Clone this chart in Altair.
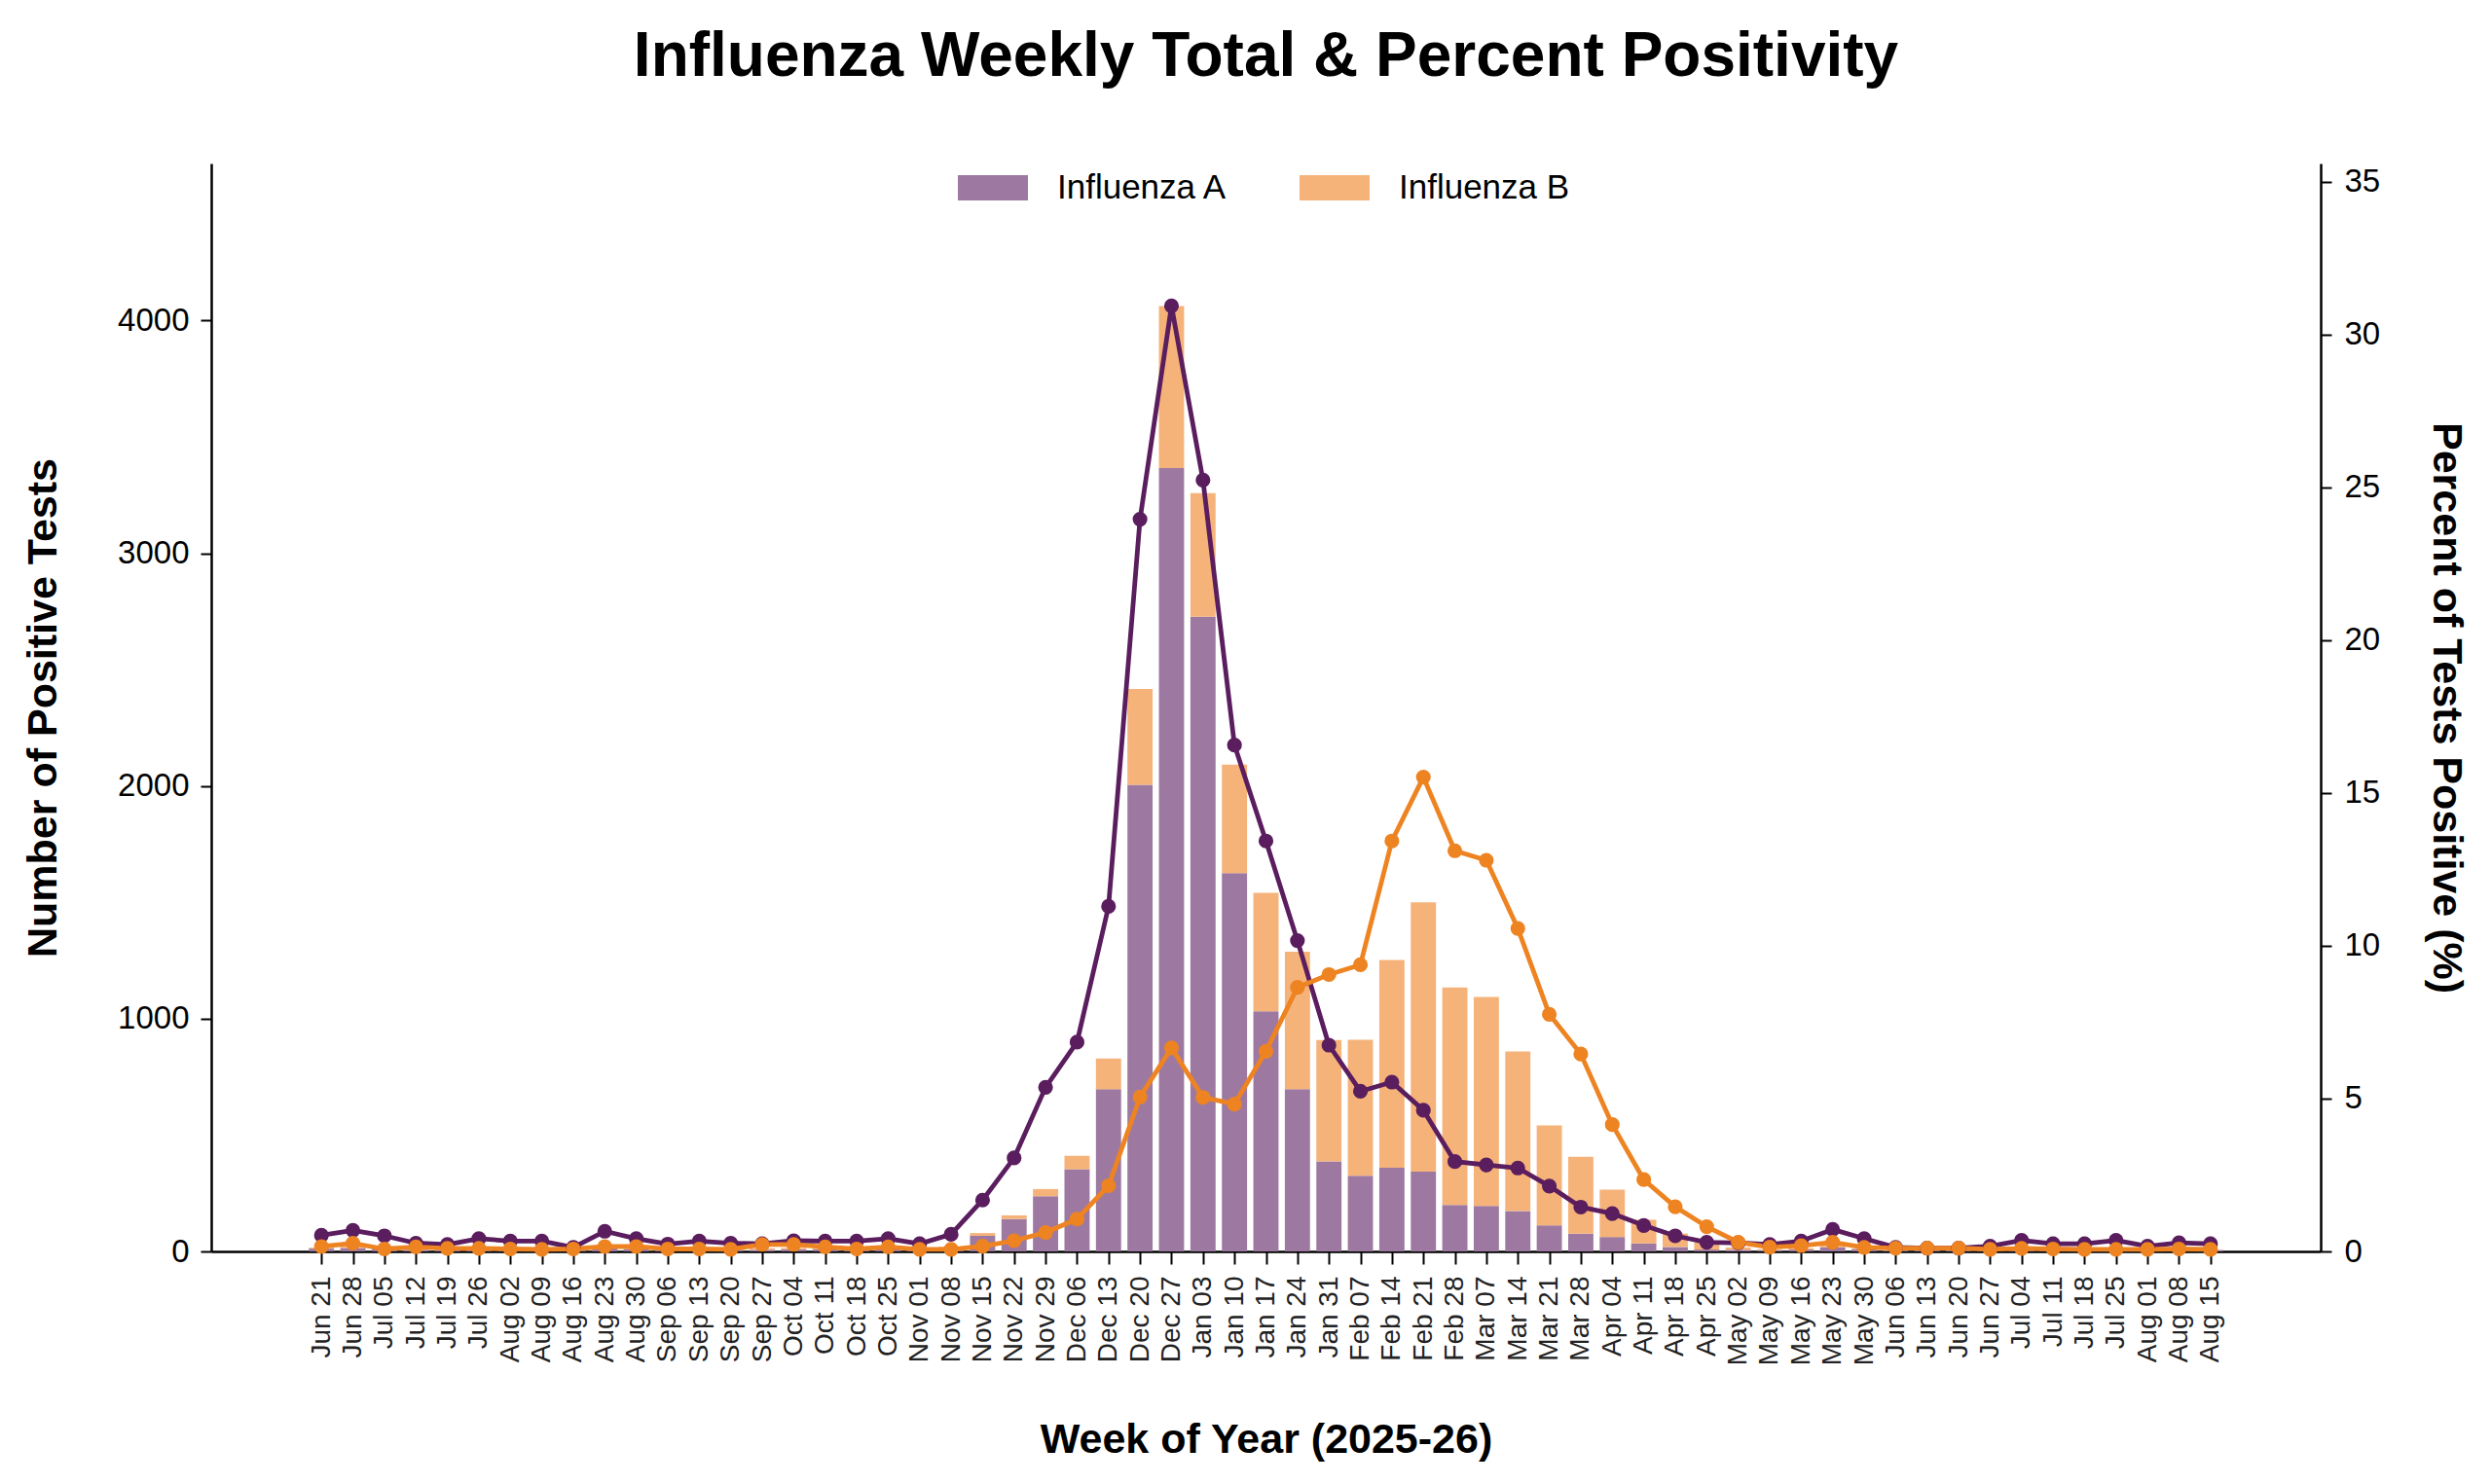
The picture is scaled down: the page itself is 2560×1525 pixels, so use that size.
import json
import altair as alt
import pandas as pd

weeks = ["Jun 21", "Jun 28", "Jul 05", "Jul 12", "Jul 19", "Jul 26", "Aug 02", "Aug 09", "Aug 16",
         "Aug 23", "Aug 30", "Sep 06", "Sep 13", "Sep 20", "Sep 27", "Oct 04", "Oct 11", "Oct 18",
         "Oct 25", "Nov 01", "Nov 08", "Nov 15", "Nov 22", "Nov 29", "Dec 06", "Dec 13", "Dec 20",
         "Dec 27", "Jan 03", "Jan 10", "Jan 17", "Jan 24", "Jan 31", "Feb 07", "Feb 14", "Feb 21",
         "Feb 28", "Mar 07", "Mar 14", "Mar 21", "Mar 28", "Apr 04", "Apr 11", "Apr 18", "Apr 25",
         "May 02", "May 09", "May 16", "May 23", "May 30", "Jun 06", "Jun 13", "Jun 20", "Jun 27",
         "Jul 04", "Jul 11", "Jul 18", "Jul 25", "Aug 01", "Aug 08", "Aug 15"]

flu_a = [12, 15, 12, 7, 6, 10, 8, 8, 3, 16, 10, 6, 8, 7, 7, 9, 9, 9, 11, 7, 18,
         67, 139, 237, 353, 697, 2005, 3366, 2727, 1626, 1032, 697, 387, 325, 360, 343,
         200, 195, 174, 112, 76, 62, 34, 19, 8, 7, 6, 8, 18, 10, 3, 3, 3, 4,
         9, 6, 6, 9, 4, 7, 6]

flu_b = [4, 6, 2, 4, 3, 3, 2, 2, 2, 4, 4, 2, 2, 2, 6, 6, 4, 2, 4, 2, 3,
         12, 16, 31, 58, 132, 412, 696, 532, 466, 509, 591, 521, 585, 892, 1157,
         934, 898, 685, 430, 331, 204, 102, 58, 31, 10, 3, 5, 10, 3, 2, 2, 2, 1,
         2, 2, 1, 1, 1, 2, 1]

pct_a = [0.53, 0.69, 0.51, 0.27, 0.23, 0.42, 0.34, 0.34, 0.13, 0.66, 0.42, 0.24, 0.34, 0.27,
         0.25, 0.35, 0.34, 0.34, 0.42, 0.25, 0.56, 1.68, 3.06, 5.37, 6.85, 11.29, 23.96, 30.94,
         25.24, 16.57, 13.43, 10.17, 6.75, 5.24, 5.54, 4.62, 2.94, 2.83, 2.73, 2.14, 1.45, 1.24,
         0.85, 0.51, 0.30, 0.28, 0.23, 0.34, 0.72, 0.42, 0.13, 0.11, 0.11, 0.17, 0.36, 0.25,
         0.25, 0.36, 0.17, 0.28, 0.25]

pct_b = [0.16, 0.27, 0.08, 0.15, 0.10, 0.10, 0.08, 0.07, 0.08, 0.16, 0.16, 0.08, 0.08, 0.07,
         0.23, 0.23, 0.15, 0.08, 0.15, 0.07, 0.07, 0.17, 0.35, 0.62, 1.06, 2.15, 5.05, 6.66,
         5.04, 4.82, 6.55, 8.64, 9.06, 9.38, 13.43, 15.52, 13.11, 12.80, 10.57, 7.76, 6.46, 4.15,
         2.35, 1.46, 0.81, 0.30, 0.14, 0.19, 0.30, 0.13, 0.11, 0.11, 0.11, 0.07, 0.10, 0.08,
         0.07, 0.07, 0.07, 0.08, 0.07]

types = ["Influenza A", "Influenza B"]
bar_colors = ["#9D79A1", "#F5B37A"]
line_series = ["% Positive A", "% Positive B"]
line_colors = ["#5A1D5E", "#EE8322"]

bar_rows = []
line_rows = []
for i, w in enumerate(weeks):
    bar_rows.append({"week": w, "idx": i, "type": types[0], "lo": 0, "hi": flu_a[i]})
    bar_rows.append({"week": w, "idx": i, "type": types[1], "lo": flu_a[i], "hi": flu_a[i] + flu_b[i]})
    line_rows.append({"week": w, "idx": i, "series": line_series[0], "pct": pct_a[i]})
    line_rows.append({"week": w, "idx": i, "series": line_series[1], "pct": pct_b[i]})
bar_df = pd.DataFrame(bar_rows)
line_df = pd.DataFrame(line_rows)

FONT = "Liberation Sans"
label_expr = json.dumps(weeks) + "[datum.value]"

x_scale = alt.Scale(domain=[-3.5, 63.5], nice=False, zero=False)

x_axis = alt.Axis(
    title="Week of Year (2025-26)", values=list(range(len(weeks))), tickCount=len(weeks),
    labelExpr=label_expr,
    labelAngle=270, labelFontSize=28, labelPadding=12, tickSize=13, labelColor="#222222",
    labelOverlap=False, labelFlush=False, labelLimit=300,
    titleFontSize=43, titleFontWeight="bold", titlePadding=56,
)

bars = alt.Chart(bar_df).transform_calculate(
    x0="datum.idx - 0.4", x1="datum.idx + 0.4"
).mark_bar().encode(
    x=alt.X("x0:Q", scale=x_scale, axis=x_axis),
    x2="x1:Q",
    y=alt.Y(
        "lo:Q",
        scale=alt.Scale(domain=[0, 4675], nice=False),
        axis=alt.Axis(
            title="Number of Positive Tests", values=[0, 1000, 2000, 3000, 4000], format="d",
            labelFontSize=33, tickSize=11, labelPadding=12,
            titleFontSize=43, titleFontWeight="bold", titlePadding=54,
        ),
    ),
    y2="hi:Q",
    color=alt.Color(
        "type:N",
        scale=alt.Scale(domain=types, range=bar_colors),
        legend=alt.Legend(
            title=None, orient="none", legendX=767, legendY=-11,
            direction="horizontal",
            symbolType="M-1,-0.36L1,-0.36L1,0.36L-1,0.36Z",
            symbolSize=5184, symbolStrokeWidth=0, symbolOpacity=1,
            labelFontSize=35, labelFont=FONT, labelOffset=30, labelLimit=400,
            columnPadding=73, padding=0, labelColor="black",
        ),
    ),
)

base = alt.Chart(line_df).encode(
    x=alt.X("idx:Q", scale=x_scale),
    y=alt.Y(
        "pct:Q",
        scale=alt.Scale(domain=[0, 35.6], nice=False),
        axis=alt.Axis(
            orient="right", title="Percent of Tests Positive (%)",
            values=[0, 5, 10, 15, 20, 25, 30, 35],
            labelFontSize=33, tickSize=11, labelPadding=13,
            titleFontSize=43, titleFontWeight="bold", titlePadding=46,
        ),
    ),
    color=alt.Color("series:N", scale=alt.Scale(domain=line_series, range=line_colors), legend=None),
)
lines = base.mark_line(strokeWidth=4.8, strokeJoin="round")
points = base.mark_circle(size=230, opacity=1)

chart = (
    alt.layer(bars, alt.layer(lines, points))
    .resolve_scale(y="independent", color="independent")
    .properties(
        width=2167, height=1118,
        autosize=alt.AutoSizeParams(type="none"),
        padding={"left": 209, "top": 160, "right": 168, "bottom": 225},
        title=alt.Title(
            "Influenza Weekly Total & Percent Positivity",
            fontSize=64, font=FONT, fontWeight="bold", anchor="middle",
            offset=66, color="black",
        ),
    )
    .configure_view(stroke=None)
    .configure_axis(
        grid=False, domainColor="black", domainWidth=2.5, tickColor="black",
        tickWidth=2, labelColor="black", titleColor="black",
        labelFont=FONT, titleFont=FONT,
    )
    .configure_legend(labelFont=FONT)
)

chart.save("out.html", embed_options={"renderer": "svg", "actions": False})
